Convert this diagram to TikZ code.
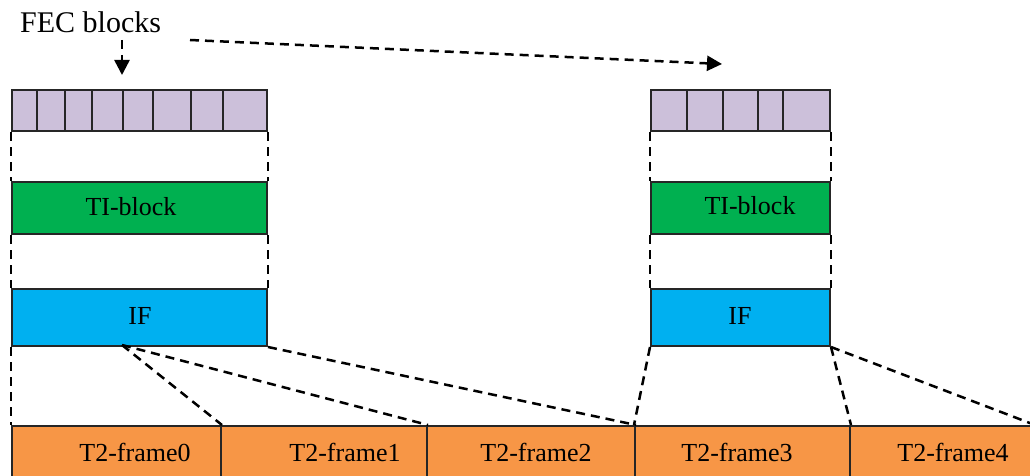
\documentclass[tikz,border=0pt]{standalone}
\usepackage{fontspec}
\setmainfont{Liberation Serif}
\usetikzlibrary{arrows.meta}
\definecolor{fecc}{RGB}{204,192,218}
\definecolor{tic}{RGB}{0,176,80}
\definecolor{ifc}{RGB}{0,176,240}
\definecolor{frc}{RGB}{247,150,70}
\tikzset{
  box/.style={draw=black!85, line width=2pt, inner sep=0pt, anchor=north west},
  cell/.style={box, fill=fecc},
  dline/.style={line width=2.5pt, dash pattern=on 9pt off 6pt},
  lbl/.style={font=\fontsize{26}{30}\selectfont, inner sep=0pt},
  arr/.style={dline, -{Triangle[length=15pt,width=15pt]}},
}
\begin{document}
\begin{tikzpicture}[x=1pt,y=-1pt]
\useasboundingbox (0,0) rectangle (1030,476);
\clip (0,0) rectangle (1030,476);
% left FEC cells
\foreach \a/\b [count=\i] in {11/36,36/64,64/91,91/122,122/152,152/190,190/222,222/266}{
  \node[cell, minimum width={(\b-\a)*1pt}, minimum height=41pt] (fl\i) at (\a,89) {};
}
% right FEC cells
\foreach \a/\b [count=\i] in {650/686,686/722,722/757,757/782,782/829}{
  \node[cell, minimum width={(\b-\a)*1pt}, minimum height=41pt] (fr\i) at (\a,89) {};
}
% TI blocks
\node[box, fill=tic, minimum width=255pt, minimum height=52pt] (til) at (11,181) {};
\node[lbl] at (131,207) {TI-block};
\node[box, fill=tic, minimum width=179pt, minimum height=52pt] (tir) at (650,181) {};
\node[lbl] at (750,206) {TI-block};
% IF blocks
\node[box, fill=ifc, minimum width=255pt, minimum height=57pt] (ifl) at (11,288) {};
\node[lbl] at (140,316) {IF};
\node[box, fill=ifc, minimum width=179pt, minimum height=57pt] (ifr) at (650,288) {};
\node[lbl] at (740,316) {IF};
% frames
\foreach \a/\b [count=\i from 0] in {11/220,220/426,426/634,634/849,849/1060}{
  \node[box, fill=frc, minimum width={(\b-\a)*1pt}, minimum height=60pt] (t\i) at (\a,425) {};
}
\node[lbl] at (135,452) {T2-frame0};
\node[lbl] at (345,452) {T2-frame1};
\node[lbl] at (536,452) {T2-frame2};
\node[lbl] at (737,452) {T2-frame3};
\node[lbl] at (953,452) {T2-frame4};
% title and arrows
\node[font=\fontsize{30}{34}\selectfont, inner sep=0pt, anchor=base west] (fec) at (20,33) {FEC blocks};
\coordinate (a1s) at (122,40);
\coordinate (a1e) at (122,75);
\coordinate (a2s) at (190,40);
\coordinate (a2e) at (722,64);
\draw[arr] (a1s) -- (a1e);
\draw[arr] (a2s) -- (a2e);
% dashed connectors left
\draw[dline] (fl1.south west) -- (til.north west);
\draw[dline] (fl8.south east) -- (til.north east);
\draw[dline] (til.south west) -- (ifl.north west);
\draw[dline] (til.south east) -- (ifl.north east);
\draw[dline] (ifl.south west) -- (t0.north west);
\coordinate (ifm) at (122,345);
\draw[dline] (ifm) -- (t0.north east);
\draw[dline] (ifm) -- (t1.north east);
\draw[dline] (ifl.south east) -- (t2.north east);
% dashed connectors right
\draw[dline] (fr1.south west) -- (tir.north west);
\draw[dline] (fr5.south east) -- (tir.north east);
\draw[dline] (tir.south west) -- (ifr.north west);
\draw[dline] (tir.south east) -- (ifr.north east);
\draw[dline] (ifr.south west) -- (t3.north west);
\draw[dline] (ifr.south east) -- (t3.north east);
\coordinate (rend) at (1035,425);
\draw[dline] (ifr.south east) -- (rend);
\end{tikzpicture}
\end{document}
